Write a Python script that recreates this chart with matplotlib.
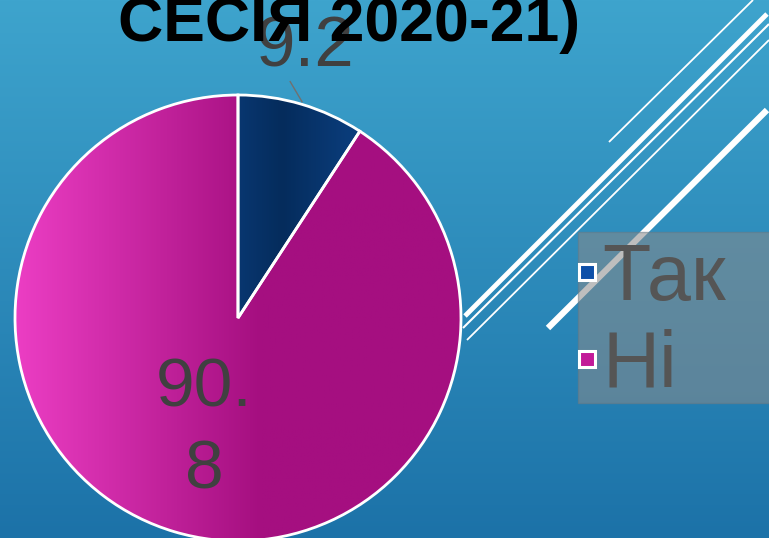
import numpy as np
import matplotlib
matplotlib.use("Agg")
import matplotlib.pyplot as plt
from matplotlib.lines import Line2D
from matplotlib.patches import Rectangle

# data
labels = ["Так", "Ні"]
values = [9.2, 90.8]
value_text = ["9.2", "90.\n8"]
title = "СЕСІЯ 2020-21)"

slice_colors = ["#0a3a74", "#a50f80"]
marker_colors = ["#0d4fa8", "#c21a98"]

W, H = 769, 538
fig = plt.figure(figsize=(W / 100, H / 100), dpi=100)

# background: vertical blue gradient + decorative diagonal lines
bg = fig.add_axes([0, 0, 1, 1], zorder=0)
top = np.array([62, 164, 205]) / 255
bot = np.array([28, 114, 168]) / 255
t = np.linspace(0, 1, 256)[:, None]
grad = top[None, :] * (1 - t) + bot[None, :] * t
bg.imshow(grad[:, None, :], aspect="auto", extent=[0, W, H, 0])
bg.set_xlim(0, W)
bg.set_ylim(H, 0)
bg.axis("off")
deco = [((609, 142), (753, 0), 1.3),
        ((465, 316), (767, 14), 3.5),
        ((463, 328), (769, 24), 1.5),
        ((467, 340), (769, 40), 1.3),
        ((548, 328), (767, 110), 4.5)]
for (x0, y0), (x1, y1), lw in deco:
    bg.plot([x0, x1], [y0, y1], color="white", lw=lw, solid_capstyle="butt")

# pie
cx, cy, r = 238, 318, 223
ax = fig.add_axes([(cx - r) / W, 1 - (cy + r) / H, 2 * r / W, 2 * r / H], zorder=2)
wedges, _ = ax.pie(values, colors=slice_colors, startangle=90, counterclock=False,
                   wedgeprops=dict(edgecolor="white", linewidth=2))
ax.set_xlim(-1, 1)
ax.set_ylim(-1, 1)
ax.set_aspect("equal")

# gradient fills clipped to wedges
xs = np.linspace(0, 1, 256)[None, :]
mag_l = np.array([236, 62, 196]) / 255
mag_r = np.array([165, 15, 128]) / 255
w = np.clip(xs / 0.55, 0, 1)[..., None]
mag = mag_l * (1 - w) + mag_r * w
im = ax.imshow(np.repeat(mag, 2, axis=0), extent=[-1, 1, -1, 1], aspect="auto", zorder=1)
im.set_clip_path(wedges[1])
nav_c = np.array([5, 44, 92]) / 255
nav_e = np.array([10, 60, 122]) / 255
d = np.abs(xs - 0.6)[..., None] / 0.15
nav = nav_c * (1 - np.clip(d, 0, 1)) + nav_e * np.clip(d, 0, 1)
im2 = ax.imshow(np.repeat(nav, 2, axis=0), extent=[-1, 1, -1, 1], aspect="auto", zorder=1)
im2.set_clip_path(wedges[0])
for wd in wedges:
    wd.set_zorder(2)
    wd.set_facecolor("none")

# value labels
ax.text(0.30, 1.13, value_text[0], ha="center", va="baseline", fontsize=51,
        color="#404040", family="Liberation Sans", clip_on=False)
ax.plot([0.234, 0.287], [1.06, 0.97], color="#707070", lw=1, clip_on=False)
ax.text(-0.15, -0.50, value_text[1], ha="center", va="center", fontsize=50,
        color="#404040", family="Liberation Sans", linespacing=1.37)

# title (cut off at top)
fig.text(349 / W, 1 - 41 / H, title, ha="center", va="baseline", fontsize=45,
         fontweight="bold", color="black", family="Liberation Sans", zorder=5)

# legend box
fig.patches.append(Rectangle((578 / W, 1 - 403 / H), 200 / W, 171 / H,
                             transform=fig.transFigure, facecolor="#8a8a8a",
                             alpha=0.55, edgecolor="#6a7a84", lw=1, zorder=3))
handles = [Line2D([], [], marker="s", linestyle="", markersize=11,
                  markerfacecolor=c, markeredgecolor="white", markeredgewidth=2.2)
           for c in marker_colors]
leg = fig.legend(handles, labels, loc="upper left",
                 bbox_to_anchor=(575 / W, 1 - 242 / H), frameon=False,
                 handlelength=0.3, handletextpad=0.05, labelspacing=0.15,
                 borderpad=0, borderaxespad=0,
                 prop={"family": "Liberation Sans", "size": 57})
leg.set_zorder(4)
for txt in leg.get_texts():
    txt.set_color("#555555")

fig.savefig("out.png", dpi=100)
